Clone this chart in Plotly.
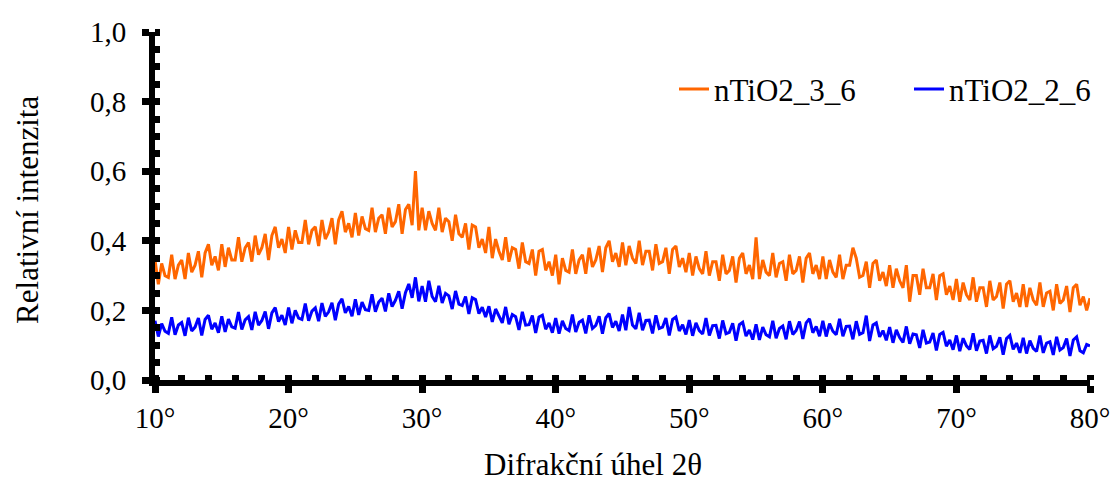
import plotly.graph_objects as go

# 2-theta positions: 10 deg to 80 deg, step 0.25 deg
two_theta = [round(10 + 0.25 * i, 2) for i in range(281)]

# nTiO2_3_6 (orange) relative intensity (4 values per degree)
ntio2_3_6 = [
    .345, .275, .335, .300,  # 10
    .295, .360, .290, .330,  # 11
    .345, .290, .365, .310,  # 12
    .330, .370, .295, .365,  # 13
    .390, .330, .355, .315,  # 14
    .390, .325, .380, .345,  # 15
    .345, .410, .340, .380,  # 16
    .395, .340, .415, .360,  # 17
    .380, .420, .345, .415,  # 18
    .440, .380, .405, .365,  # 19
    .440, .375, .430, .395,  # 20
    .395, .460, .390, .430,  # 21
    .440, .385, .460, .405,  # 22
    .425, .465, .390, .460,  # 23
    .485, .425, .450, .410,  # 24
    .480, .415, .470, .435,  # 25
    .430, .495, .425, .465,  # 26
    .475, .420, .495, .440,  # 27
    .455, .505, .420, .490,  # 28
    .505, .445, .600, .430,  # 29
    .495, .430, .485, .450,  # 30
    .430, .495, .425, .465,  # 31
    .455, .400, .475, .420,  # 32
    .410, .450, .375, .445,  # 33
    .440, .380, .405, .365,  # 34
    .440, .350, .405, .370,  # 35
    .345, .410, .340, .380,  # 36
    .375, .320, .395, .340,  # 37
    .335, .375, .300, .370,  # 38
    .375, .315, .340, .300,  # 39
    .360, .275, .350, .315,  # 40
    .310, .375, .305, .345,  # 41
    .360, .305, .380, .325,  # 42
    .345, .385, .310, .380,  # 43
    .400, .340, .365, .325,  # 44
    .395, .330, .385, .350,  # 45
    .335, .400, .330, .370,  # 46
    .370, .315, .390, .335,  # 47
    .340, .380, .305, .375,  # 48
    .385, .325, .350, .310,  # 49
    .365, .300, .355, .320,  # 50
    .305, .370, .300, .340,  # 51
    .340, .285, .360, .305,  # 52
    .315, .355, .280, .350,  # 53
    .365, .305, .330, .290,  # 54
    .410, .290, .345, .310,  # 55
    .300, .365, .295, .335,  # 56
    .340, .285, .360, .305,  # 57
    .315, .355, .280, .350,  # 58
    .365, .305, .330, .290,  # 59
    .355, .290, .345, .310,  # 60
    .295, .360, .290, .330,  # 61
    .330, .380, .350, .295,  # 62
    .300, .340, .265, .335,  # 63
    .345, .285, .310, .270,  # 64
    .330, .265, .320, .285,  # 65
    .265, .330, .225, .300,  # 66
    .300, .245, .320, .265,  # 67
    .265, .305, .230, .300,  # 68
    .305, .245, .270, .230,  # 69
    .290, .225, .280, .245,  # 70
    .230, .295, .225, .265,  # 71
    .265, .210, .285, .230,  # 72
    .240, .280, .205, .275,  # 73
    .285, .225, .250, .210,  # 74
    .275, .210, .265, .230,  # 75
    .215, .280, .210, .250,  # 76
    .255, .200, .275, .220,  # 77
    .230, .270, .195, .265,  # 78
    .275, .215, .240, .200,  # 79
    .235,                    # 80
]

# nTiO2_2_6 (blue) relative intensity (4 values per degree)
ntio2_2_6 = [
    .170, .125, .162, .140,  # 10
    .134, .180, .130, .158,  # 11
    .165, .127, .179, .141,  # 12
    .152, .178, .128, .174,  # 13
    .186, .146, .164, .136,  # 14
    .183, .138, .175, .153,  # 15
    .149, .195, .145, .173,  # 16
    .182, .144, .196, .158,  # 17
    .171, .197, .147, .193,  # 18
    .208, .168, .186, .158,  # 19
    .208, .163, .200, .178,  # 20
    .174, .220, .170, .198,  # 21
    .207, .169, .221, .183,  # 22
    .196, .222, .172, .218,  # 23
    .233, .193, .211, .183,  # 24
    .232, .187, .224, .202,  # 25
    .200, .246, .196, .224,  # 26
    .235, .197, .249, .211,  # 27
    .229, .255, .205, .251,  # 28
    .276, .236, .295, .226,  # 29
    .270, .225, .285, .240,  # 30
    .225, .271, .221, .249,  # 31
    .242, .204, .256, .218,  # 32
    .214, .240, .190, .236,  # 33
    .231, .191, .209, .181,  # 34
    .212, .167, .204, .182,  # 35
    .164, .210, .160, .188,  # 36
    .182, .144, .196, .158,  # 37
    .159, .185, .135, .181,  # 38
    .186, .146, .164, .136,  # 39
    .178, .133, .170, .148,  # 40
    .142, .188, .138, .166,  # 41
    .172, .134, .186, .148,  # 42
    .157, .183, .133, .179,  # 43
    .191, .151, .169, .141,  # 44
    .188, .143, .210, .158,  # 45
    .147, .193, .143, .171,  # 46
    .172, .134, .186, .148,  # 47
    .152, .178, .128, .174,  # 48
    .181, .141, .159, .131,  # 49
    .172, .127, .164, .142,  # 50
    .132, .178, .128, .156,  # 51
    .157, .119, .171, .133,  # 52
    .137, .163, .113, .159,  # 53
    .166, .126, .144, .116,  # 54
    .160, .115, .152, .130,  # 55
    .124, .170, .120, .148,  # 56
    .155, .117, .169, .131,  # 57
    .142, .168, .118, .164,  # 58
    .176, .136, .154, .126,  # 59
    .170, .125, .162, .140,  # 60
    .130, .176, .126, .154,  # 61
    .155, .117, .169, .131,  # 62
    .136, .185, .112, .158,  # 63
    .164, .124, .142, .114,  # 64
    .152, .107, .144, .122,  # 65
    .108, .154, .104, .132,  # 66
    .130, .092, .144, .106,  # 67
    .109, .135, .085, .131,  # 68
    .137, .097, .115, .087,  # 69
    .128, .083, .120, .098,  # 70
    .088, .134, .084, .112,  # 71
    .114, .076, .128, .090,  # 72
    .097, .123, .073, .119,  # 73
    .128, .088, .106, .078,  # 74
    .121, .076, .113, .091,  # 75
    .082, .128, .078, .106,  # 76
    .110, .072, .124, .086,  # 77
    .093, .119, .069, .115,  # 78
    .124, .084, .078, .102,  # 79
    .098,                    # 80
]

x_ticks = [10, 20, 30, 40, 50, 60, 70, 80]
x_tick_labels = ["10°", "20°", "30°", "40°", "50°", "60°", "70°", "80°"]
y_ticks = [0.0, 0.2, 0.4, 0.6, 0.8, 1.0]
y_tick_labels = ["0,0", "0,2", "0,4", "0,6", "0,8", "1,0"]
series_names = ["nTiO2_3_6", "nTiO2_2_6"]
x_title = "Difrakční úhel 2θ"
y_title = "Relativní intenzita"

FONT = "Liberation Serif"

fig = go.Figure()
fig.add_trace(go.Scatter(x=two_theta, y=ntio2_3_6, mode="lines", name=series_names[0],
                         line=dict(color="#FF6600", width=3)))
fig.add_trace(go.Scatter(x=two_theta, y=ntio2_2_6, mode="lines", name=series_names[1],
                         line=dict(color="#0000FF", width=3)))

fig.update_layout(
    width=1115, height=481,
    margin=dict(l=155, r=25, t=32, b=101, autoexpand=False),
    paper_bgcolor="white", plot_bgcolor="white",
    font=dict(family=FONT, size=29, color="black"),
    showlegend=True,
    legend=dict(orientation="h", x=(674 - 155) / 935, xanchor="left", y=0.835, yanchor="middle",
                font=dict(family=FONT, size=31, color="black"),
                entrywidth=190, entrywidthmode="pixels",
                bgcolor="rgba(0,0,0,0)", traceorder="normal"),
    xaxis=dict(range=[10, 80], tickmode="array", tickvals=x_ticks, ticktext=x_tick_labels,
               showline=True, linecolor="black", linewidth=6,
               ticks="outside", ticklen=7, tickwidth=7, tickcolor="black",
               minor=dict(dtick=2, tick0=10, ticks="inside", ticklen=5, tickwidth=7, tickcolor="black"),
               showgrid=False, zeroline=False,
               tickfont=dict(family=FONT, size=29, color="black")),
    yaxis=dict(range=[0, 1], tickmode="array", tickvals=y_ticks, ticktext=y_tick_labels,
               showline=True, linecolor="black", linewidth=6,
               ticks="outside", ticklen=7, tickwidth=7, tickcolor="black",
               minor=dict(dtick=0.05, tick0=0, ticks="inside", ticklen=5, tickwidth=7, tickcolor="black"),
               showgrid=False, zeroline=False, ticklabelstandoff=10,
               tickfont=dict(family=FONT, size=29, color="black")),
    # overlay axes for the inner half of the major ticks
    xaxis2=dict(overlaying="x", anchor="y", side="bottom", range=[10, 80],
                tickmode="array", tickvals=x_ticks,
                ticks="inside", ticklen=7, tickwidth=7, tickcolor="black",
                showticklabels=False, showline=False, showgrid=False, zeroline=False),
    yaxis2=dict(overlaying="y", anchor="x", side="left", range=[0, 1],
                tickmode="array", tickvals=y_ticks,
                ticks="inside", ticklen=7, tickwidth=7, tickcolor="black",
                showticklabels=False, showline=False, showgrid=False, zeroline=False),
)

fig.add_annotation(text=x_title, xref="paper", yref="paper", x=(593 - 155) / 935, y=-0.244,
                   xanchor="center", yanchor="middle", showarrow=False,
                   font=dict(family=FONT, size=31, color="black"))
fig.add_annotation(text=y_title, xref="paper", yref="paper", x=-0.137, y=(380 - 210) / 348,
                   xanchor="center", yanchor="middle", showarrow=False, textangle=-90,
                   font=dict(family=FONT, size=31, color="black"))

fig.write_html("out.html", config={"displayModeBar": False},
               post_script="document.body.style.margin='0';document.body.style.padding='0';")
